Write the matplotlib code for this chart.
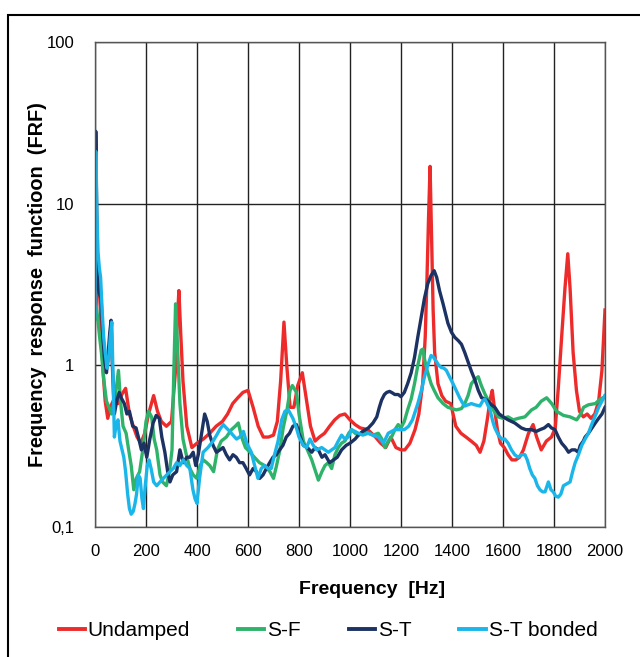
import matplotlib
matplotlib.use("Agg")
import matplotlib.pyplot as plt
from matplotlib.patches import Rectangle
from matplotlib.lines import Line2D

plt.rcParams['font.family'] = ['Liberation Sans', 'DejaVu Sans']

series_names = ["Undamped", "S-F", "S-T", "S-T bonded"]
colors = ["#EE2B2B", "#2FB36B", "#1C3263", "#1AB6EA"]

undamped_f = [0, 4, 10, 17, 25, 32, 40, 50, 60, 75, 90, 105, 120, 135, 150, 165, 180, 195, 210, 230, 245, 260, 280, 300,
              315, 322, 329, 336, 345, 360, 380, 400, 425, 450, 475, 500, 520, 540, 560, 580, 600, 620, 640, 660, 680, 700,
              715, 728, 741, 752, 765, 780, 795, 813, 830, 845, 863, 880, 900, 920, 940, 960, 980, 1000, 1020, 1040, 1070,
              1100, 1120, 1140, 1160, 1180, 1200, 1215, 1235, 1255, 1270, 1285, 1295, 1302, 1308, 1314, 1320, 1326, 1332,
              1345, 1360, 1375, 1395, 1415, 1435, 1455, 1475, 1495, 1510, 1525, 1540, 1550, 1558, 1566, 1578, 1590, 1605,
              1620, 1635, 1650, 1665, 1680, 1700, 1718, 1732, 1750, 1770, 1790, 1805, 1817, 1830, 1843, 1854, 1863, 1875,
              1888, 1900, 1915, 1930, 1945, 1960, 1975, 1988, 2000]
undamped_v = [2.0, 2.2, 4.6, 3.0, 1.6, 0.9, 0.6, 0.47, 0.55, 0.62, 0.58, 0.66, 0.72, 0.5, 0.42, 0.36, 0.33, 0.38, 0.5, 0.65,
              0.52, 0.45, 0.42, 0.45, 0.9, 1.8, 2.9, 1.6, 0.8, 0.42, 0.31, 0.33, 0.35, 0.38, 0.42, 0.45, 0.5, 0.58, 0.63,
              0.68, 0.7, 0.55, 0.42, 0.36, 0.36, 0.37, 0.45, 0.8, 1.85, 1.0, 0.55, 0.55, 0.75, 0.9, 0.6, 0.42, 0.34, 0.36,
              0.38, 0.42, 0.46, 0.49, 0.5, 0.46, 0.43, 0.41, 0.4, 0.36, 0.33, 0.31, 0.36, 0.31, 0.3, 0.3, 0.33, 0.4, 0.5,
              0.77, 1.5, 3.5, 8.2, 17.0, 6.0, 2.2, 1.2, 0.77, 0.65, 0.6, 0.58, 0.42, 0.38, 0.36, 0.34, 0.32, 0.29, 0.34,
              0.48, 0.62, 0.7, 0.55, 0.4, 0.33, 0.31, 0.28, 0.26, 0.26, 0.27, 0.3, 0.38, 0.43, 0.36, 0.3, 0.34, 0.36, 0.41,
              0.73, 1.5, 3.0, 4.9, 3.0, 1.2, 0.7, 0.52, 0.48, 0.5, 0.47, 0.5, 0.6, 0.93, 2.2]

sf_f = [0, 5, 10, 18, 25, 35, 45, 55, 65, 80, 92, 100, 110, 122, 132, 142, 152, 162, 175, 190, 200, 210, 222, 232, 242,
        255, 265, 280, 292, 302, 309, 316, 322, 333, 345, 358, 372, 385, 399, 412, 425, 438, 450, 465, 480, 495, 515, 535,
        550, 562, 575, 590, 608, 625, 645, 665, 686, 700, 712, 725, 738, 752, 765, 774, 790, 800, 817, 833, 850, 865, 876,
        890, 902, 915, 928, 941, 954, 967, 980, 995, 1006, 1020, 1033, 1050, 1072, 1090, 1111, 1125, 1137, 1150, 1163,
        1176, 1189, 1200, 1213, 1226, 1240, 1253, 1266, 1279, 1286, 1292, 1299, 1310, 1318, 1330, 1345, 1365, 1384, 1400,
        1417, 1437, 1450, 1463, 1476, 1490, 1503, 1515, 1530, 1549, 1565, 1582, 1600, 1620, 1640, 1660, 1686, 1712, 1730,
        1750, 1771, 1791, 1810, 1837, 1863, 1889, 1905, 1916, 1935, 1962, 1982, 2000]
sf_v = [1.95, 2.3, 2.0, 1.5, 1.2, 0.8, 0.6, 0.55, 0.5, 0.65, 0.93, 0.6, 0.42, 0.38, 0.3, 0.24, 0.17, 0.2, 0.22, 0.32, 0.45,
        0.52, 0.48, 0.35, 0.3, 0.21, 0.19, 0.18, 0.22, 0.3, 0.9, 2.4, 1.5, 0.58, 0.35, 0.28, 0.23, 0.21, 0.2, 0.24, 0.26,
        0.25, 0.24, 0.22, 0.3, 0.34, 0.36, 0.4, 0.42, 0.44, 0.36, 0.31, 0.29, 0.27, 0.25, 0.24, 0.22, 0.2, 0.24, 0.3,
        0.41, 0.52, 0.7, 0.75, 0.68, 0.5, 0.34, 0.3, 0.26, 0.22, 0.195, 0.22, 0.24, 0.25, 0.23, 0.28, 0.31, 0.33, 0.34,
        0.38, 0.4, 0.38, 0.37, 0.39, 0.38, 0.37, 0.38, 0.35, 0.31, 0.34, 0.36, 0.4, 0.43, 0.41, 0.45, 0.53, 0.62, 0.77,
        1.0, 1.24, 1.26, 1.1, 0.97, 0.85, 0.77, 0.7, 0.63, 0.58, 0.55, 0.54, 0.53, 0.54, 0.58, 0.65, 0.77, 0.82, 0.85,
        0.75, 0.66, 0.58, 0.52, 0.48, 0.47, 0.48, 0.46, 0.47, 0.48, 0.53, 0.55, 0.6, 0.63, 0.58, 0.52, 0.49, 0.48, 0.46,
        0.5, 0.55, 0.57, 0.58, 0.62, 0.64]

st_f = [0, 3, 6, 10, 16, 24, 30, 37, 45, 52, 58, 63, 68, 76, 85, 95, 105, 115, 125, 135, 148, 161, 172, 182, 192, 203,
        215, 228, 240, 252, 262, 274, 285, 294, 305, 320, 333, 346, 360, 372, 385, 395, 405, 418, 430, 440, 450, 463, 476,
        490, 502, 515, 528, 541, 554, 567, 580, 593, 606, 620, 633, 646, 659, 672, 685, 698, 711, 724, 737, 750, 763, 776,
        790, 800, 817, 833, 850, 863, 876, 890, 902, 920, 935, 950, 967, 985, 1000, 1020, 1033, 1050, 1072, 1090, 1105,
        1115, 1124, 1135, 1144, 1155, 1163, 1176, 1189, 1200, 1213, 1226, 1240, 1253, 1266, 1279, 1292, 1305, 1318, 1330,
        1340, 1351, 1365, 1384, 1398, 1411, 1425, 1437, 1450, 1463, 1476, 1490, 1503, 1516, 1530, 1542, 1555, 1568, 1585,
        1601, 1620, 1646, 1672, 1690, 1712, 1730, 1745, 1762, 1778, 1790, 1804, 1817, 1830, 1845, 1857, 1870, 1883, 1895,
        1903, 1915, 1922, 1935, 1949, 1962, 1975, 1988, 2000]
st_v = [3.0, 28.0, 12.0, 3.5, 2.8, 2.6, 1.6, 1.1, 0.9, 1.2, 1.6, 1.9, 1.0, 0.5, 0.6, 0.68, 0.62, 0.58, 0.5, 0.52, 0.42,
        0.41, 0.35, 0.3, 0.33, 0.27, 0.35, 0.44, 0.49, 0.47, 0.36, 0.29, 0.22, 0.19, 0.21, 0.22, 0.3, 0.25, 0.27, 0.27,
        0.29, 0.24, 0.28, 0.38, 0.5, 0.45, 0.37, 0.32, 0.29, 0.3, 0.31, 0.28, 0.26, 0.28, 0.27, 0.25, 0.25, 0.23, 0.21,
        0.23, 0.22, 0.2, 0.21, 0.23, 0.25, 0.27, 0.28, 0.3, 0.32, 0.36, 0.38, 0.42, 0.43, 0.38, 0.32, 0.31, 0.29, 0.31,
        0.3, 0.27, 0.28, 0.25, 0.26, 0.27, 0.3, 0.32, 0.33, 0.35, 0.37, 0.39, 0.41, 0.44, 0.48, 0.55, 0.61, 0.66, 0.68,
        0.69, 0.68, 0.66, 0.66, 0.64, 0.68, 0.77, 0.9, 1.12, 1.5, 1.98, 2.6, 3.2, 3.6, 3.85, 3.5, 2.9, 2.4, 1.82, 1.6,
        1.49, 1.42, 1.35, 1.2, 1.05, 0.92, 0.81, 0.7, 0.63, 0.62, 0.6, 0.57, 0.55, 0.5, 0.48, 0.46, 0.44, 0.41, 0.4, 0.4,
        0.39, 0.4, 0.41, 0.43, 0.41, 0.4, 0.36, 0.33, 0.31, 0.29, 0.3, 0.3, 0.29, 0.32, 0.34, 0.36, 0.38, 0.41, 0.44,
        0.47, 0.5, 0.55]

stb_f = [0, 3, 7, 12, 17, 22, 28, 34, 40, 47, 54, 60, 66, 71, 76, 82, 90, 98, 106, 113, 120, 128, 135, 142, 150, 157, 163,
         170, 177, 184, 190, 197, 205, 212, 220, 230, 242, 255, 268, 281, 294, 307, 320, 333, 346, 360, 372, 384, 392,
         400, 410, 424, 443, 463, 477, 489, 503, 515, 529, 541, 555, 567, 582, 595, 613, 626, 639, 652, 665, 678, 691,
         704, 718, 732, 745, 758, 776, 790, 800, 817, 830, 843, 856, 869, 889, 902, 915, 928, 941, 954, 967, 980, 993,
         1006, 1020, 1033, 1050, 1072, 1090, 1111, 1131, 1150, 1163, 1176, 1196, 1213, 1230, 1245, 1266, 1280, 1292,
         1305, 1318, 1328, 1338, 1348, 1358, 1368, 1378, 1390, 1404, 1418, 1430, 1440, 1450, 1463, 1476, 1490, 1509,
         1520, 1529, 1540, 1549, 1560, 1568, 1582, 1595, 1607, 1620, 1633, 1646, 1659, 1672, 1686, 1695, 1705, 1715,
         1725, 1735, 1745, 1755, 1765, 1778, 1788, 1797, 1807, 1817, 1827, 1837, 1850, 1863, 1873, 1883, 1896, 1909,
         1922, 1935, 1945, 1955, 1965, 1975, 1988, 1999]
stb_v = [2.0, 21.0, 9.0, 5.0, 4.0, 3.5, 2.2, 1.5, 1.2, 0.96, 1.1, 1.5, 1.85, 0.8, 0.36, 0.42, 0.46, 0.34, 0.3, 0.27, 0.22,
         0.16, 0.13, 0.12, 0.125, 0.14, 0.16, 0.21, 0.2, 0.15, 0.13, 0.18, 0.24, 0.26, 0.23, 0.19, 0.18, 0.19, 0.2, 0.21,
         0.22, 0.23, 0.25, 0.24, 0.26, 0.24, 0.23, 0.17, 0.15, 0.14, 0.2, 0.29, 0.31, 0.34, 0.37, 0.4, 0.43, 0.41, 0.39,
         0.37, 0.35, 0.36, 0.39, 0.33, 0.29, 0.24, 0.2, 0.23, 0.24, 0.23, 0.23, 0.28, 0.34, 0.46, 0.52, 0.53, 0.47, 0.41,
         0.36, 0.32, 0.31, 0.35, 0.32, 0.3, 0.31, 0.3, 0.29, 0.3, 0.31, 0.34, 0.37, 0.35, 0.36, 0.4, 0.39, 0.38, 0.37,
         0.38, 0.37, 0.36, 0.33, 0.38, 0.39, 0.4, 0.4, 0.4, 0.42, 0.46, 0.58, 0.7, 0.85, 1.0, 1.15, 1.12, 1.06, 1.0,
         0.97, 0.96, 0.93, 0.85, 0.77, 0.69, 0.63, 0.59, 0.56, 0.57, 0.58, 0.57, 0.56, 0.6, 0.62, 0.57, 0.53, 0.45, 0.41,
         0.37, 0.35, 0.35, 0.33, 0.3, 0.28, 0.27, 0.28, 0.28, 0.26, 0.23, 0.21, 0.2, 0.18, 0.17, 0.165, 0.165, 0.19,
         0.17, 0.165, 0.155, 0.153, 0.16, 0.18, 0.185, 0.19, 0.22, 0.25, 0.28, 0.32, 0.35, 0.38, 0.42, 0.46, 0.5, 0.55,
         0.6, 0.65]

x_ticks = [0, 200, 400, 600, 800, 1000, 1200, 1400, 1600, 1800, 2000]
y_ticks = [0.1, 1, 10, 100]
y_tick_labels = ["0,1", "1", "10", "100"]

fig = plt.figure(figsize=(6.4, 6.57), dpi=100)
ax = fig.add_axes([95 / 640, 1 - 527 / 657, 510 / 640, 485 / 657])

all_f = [undamped_f, sf_f, st_f, stb_f]
all_v = [undamped_v, sf_v, st_v, stb_v]
for f, v, c, n in zip(all_f, all_v, colors, series_names):
    ax.plot(f, v, color=c, lw=2.4, label=n, solid_joinstyle='round')

ax.set_yscale('log')
ax.set_xlim(0, 2000)
ax.set_ylim(0.1, 100)
ax.set_xticks(x_ticks)
ax.set_xticklabels([str(t) for t in x_ticks])
ax.set_yticks(y_ticks)
ax.set_yticklabels(y_tick_labels)
ax.yaxis.set_minor_locator(matplotlib.ticker.NullLocator())
ax.tick_params(axis='both', length=0, labelsize=12, colors='black')
ax.tick_params(axis='x', pad=12)
ax.tick_params(axis='y', pad=15)
ax.grid(True, which='major', color='#222222', lw=1.0)
ax.set_axisbelow(True)
for s in ax.spines.values():
    s.set_color('#555555')
    s.set_linewidth(1.0)

fig.text(372 / 640, 1 - 590 / 657, "Frequency  [Hz]", fontsize=14, fontweight='bold',
         ha='center', va='center')
fig.text(38 / 640, 1 - 285 / 657, "Frequency  response  functioon  (FRF)", rotation=90,
         fontsize=14.3, fontweight='bold', ha='center', va='center')

handles = [Line2D([0], [0], color=c, lw=2.8) for c in colors]
fig.legend(handles, series_names, loc='center', bbox_to_anchor=(328 / 640, 1 - 631 / 657), ncol=4,
           frameon=False, fontsize=15, handlelength=1.25, handletextpad=0.15, columnspacing=2.3,
           borderpad=0.0)

fig.patches.append(Rectangle((8 / 640, -0.1), 1.2, 1 - 15 / 657 + 0.1, transform=fig.transFigure,
                             fill=False, edgecolor='black', lw=1.5, clip_on=False))

fig.savefig("out.png", dpi=100)
